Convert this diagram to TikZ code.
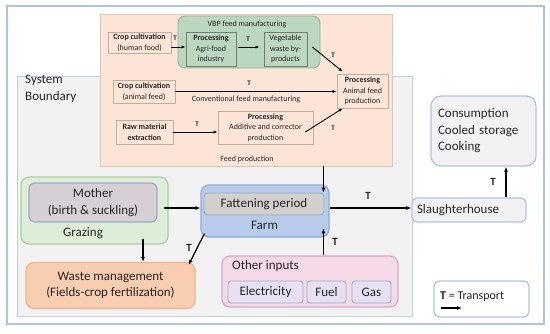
\documentclass[tikz,border=0pt]{standalone}
\usepackage{fontspec}
\usetikzlibrary{arrows.meta}
\setmainfont{Carlito}
\definecolor{framecol}{HTML}{A9C5E2}
\definecolor{sysfill}{HTML}{F2F2F2}
\definecolor{sysdraw}{HTML}{BDD0E4}
\definecolor{feedfill}{HTML}{FCE4D6}
\definecolor{feeddraw}{HTML}{D9C7B8}
\definecolor{fbord}{HTML}{BFAE9F}
\definecolor{vbpfill}{HTML}{BBD7BF}
\definecolor{vbpdraw}{HTML}{8DB596}
\definecolor{vbpbox}{HTML}{6E7F6E}
\definecolor{grazefill}{HTML}{DDEDD8}
\definecolor{grazedraw}{HTML}{A8CFA0}
\definecolor{motherfill}{HTML}{D6D0D6}
\definecolor{motherdraw}{HTML}{9DAAC6}
\definecolor{farmfill}{HTML}{B7CBEA}
\definecolor{farmdraw}{HTML}{8EAADB}
\definecolor{fatfill}{HTML}{D3CFCD}
\definecolor{wastefill}{HTML}{F9CDB0}
\definecolor{wastedraw}{HTML}{EFB48E}
\definecolor{otherfill}{HTML}{F4D9E6}
\definecolor{otherdraw}{HTML}{D7A9C9}
\definecolor{elecfill}{HTML}{E6E1F2}
\definecolor{elecdraw}{HTML}{A3AACB}
\definecolor{txt}{HTML}{262626}
\begin{document}
\begin{tikzpicture}[x=1pt,y=-1pt,
  every node/.style={inner sep=0pt,align=center,text=txt},
  arr/.style={-{Latex[length=5pt,width=4pt]},line width=1.2pt},
  sarr/.style={-{Latex[length=4pt,width=3pt]},line width=0.9pt},
  small/.style={font=\fontsize{8}{10.5}\selectfont},
  big/.style={font=\fontsize{13}{16.5}\selectfont},
  tlbl/.style={font=\bfseries\fontsize{7}{8}\selectfont},
  Tlbl/.style={font=\bfseries\fontsize{11}{12}\selectfont},
  fbox/.style={draw=fbord,fill=feedfill,line width=0.7pt,small},
  vbox/.style={draw=vbpbox,fill=vbpfill,line width=0.7pt,small},
  panel/.style={rounded corners=8pt,line width=1.2pt},
  inbox/.style={draw=elecdraw,fill=elecfill,rounded corners=3pt,line width=0.9pt,big,minimum height=22},
]
  \useasboundingbox (0,0) rectangle (550,333);
  \fill[white] (0,0) rectangle (550,333);
  \draw[framecol,line width=1.2pt,fill=white] (7,6) rectangle (544,324);

  \node[draw=sysdraw,fill=sysfill,line width=0.9pt,minimum width=395,minimum height=240] (sys) at (214.5,196) {};
  \node[big,align=left,anchor=north west] (syslbl) at (25,75) {System\\Boundary};

  % feed production
  \node[draw=feeddraw,fill=feedfill,line width=0.9pt,minimum width=292,minimum height=152] (feed) at (246,90) {};
  \node[small] (feedlbl) at (247,159) {Feed production};
  \node[draw=vbpdraw,fill=vbpfill,rounded corners=7pt,line width=0.9pt,minimum width=142,minimum height=52] (vbp) at (249,42) {};
  \node[small] (vbplbl) at (247,24) {VBP feed manufacturing};

  \node[fbox,minimum width=63,minimum height=21] (cropH) at (139.5,42.5) {\textbf{Crop cultivation}\\(human food)};
  \node[vbox,minimum width=50,minimum height=34] (procA) at (211,49) {\textbf{Processing}\\Agri-food\\industry};
  \node[vbox,minimum width=43,minimum height=34] (vegW) at (285.5,49) {Vegetable\\waste by-\\products};
  \node[fbox,minimum width=62,minimum height=23] (cropA) at (144,91.5) {\textbf{Crop cultivation}\\(animal feed)};
  \node[fbox,minimum width=51,minimum height=34] (procF) at (362.5,91) {\textbf{Processing}\\Animal feed\\production};
  \node[fbox,minimum width=57,minimum height=24] (raw) at (144.5,132) {\textbf{Raw material}\\\textbf{extraction}};
  \node[fbox,minimum width=95,minimum height=33] (procAdd) at (265.5,127.5) {\textbf{Processing}\\Additive and corrector\\production};

  \draw[sarr] ([yshift=-4.5pt]cropH.east) -- ([yshift=-4.5pt]cropH.east -| procA.west);
  \draw[sarr] ([xshift=2pt,yshift=2pt]procA.east) -- ([xshift=-4pt,yshift=2pt]vegW.west);
  \draw[sarr] ([xshift=5pt,yshift=2pt]vegW.east) -- ([xshift=6pt,yshift=2pt]procF.north west);
  \draw[sarr] (cropA.east) -- (cropA.east -| procF.west);
  \draw[sarr] (raw.east) -- (raw.east -| procAdd.west);
  \draw[sarr] ([xshift=-8pt,yshift=-4.5pt]procAdd.east) -- ([xshift=6pt]procF.south west);

  \node[tlbl] (t1) at (175,38) {T};
  \node[tlbl] (t2) at (248,39) {T};
  \node[tlbl] (t3) at (333,55) {T};
  \node[tlbl] (t4) at (249,83) {T};
  \node[tlbl] (t5) at (197,124) {T};
  \node[tlbl] (t6) at (333,128) {T};
  \node[small] (conv) at (246,99) {Conventional feed manufacturing};

  % farm side
  \node[panel,draw=grazedraw,fill=grazefill,minimum width=147,minimum height=67] (grazing) at (94.5,210.5) {};
  \node[panel,draw=motherdraw,fill=motherfill,rounded corners=6pt,minimum width=128,minimum height=39,big] (mother) at (93,202.5) {Mother\\(birth \& suckling)};
  \node[big] (grazlbl) at (83,233) {Grazing};

  \node[panel,draw=farmdraw,fill=farmfill,minimum width=128,minimum height=52] (farm) at (265,211) {};
  \node[draw=motherdraw,fill=fatfill,rounded corners=4pt,line width=0.9pt,minimum width=120,minimum height=22,big] (fatten) at (264,204) {Fattening period};
  \node[big] (farmlbl) at (264.5,225) {Farm};

  \node[panel,draw=wastedraw,fill=wastefill,minimum width=169,minimum height=46,big] (waste) at (110.5,285.5) {Waste management\\(Fields-crop fertilization)};

  \node[panel,draw=otherdraw,fill=otherfill,minimum width=176,minimum height=51] (other) at (310,281.5) {};
  \node[big,anchor=west] (otherlbl) at (232,266) {Other inputs};
  \foreach \nm/\cx/\w/\lbl in {elec/265.5/75/Electricity, fuel/326.5/39/Fuel, gas/371.5/39/Gas}
    \node[inbox,minimum width=\w] (\nm) at (\cx,292) {\lbl};

  \node[panel,draw=farmdraw!70,fill=sysfill,rounded corners=5pt,minimum width=114,minimum height=24,text width=104,align=left,big] (slaughter) at (469,210) {Slaughterhouse};
  \node[panel,draw=farmdraw!70,fill=sysfill,rounded corners=10pt,minimum width=105,minimum height=70,text width=91,align=left,big] (consum) at (483.5,131) {Consumption\\Cooled storage\\Cooking};

  \draw[arr] ([xshift=-1pt]fatten.north east |- feed.south) -- ([xshift=-1pt]fatten.north east);
  \draw[arr] ([xshift=6pt,yshift=-5.5pt]mother.east) -- ([yshift=-5.5pt]mother.east -| farm.west);
  \draw[arr] ([xshift=48.5pt,yshift=6pt]grazing.south) -- ([xshift=48.5pt]grazing.south |- waste.north);
  \draw[arr] ([xshift=4pt,yshift=4pt]farm.south west) -- ([xshift=-7pt,yshift=-3pt]waste.north east);
  \draw[arr] ([xshift=-1pt]fatten.south east |- other.north) -- ([xshift=-1pt,yshift=-13pt]fatten.south east);
  \draw[arr] ([yshift=2pt]farm.east |- slaughter.west) -- ([yshift=2pt]slaughter.west);
  \draw[arr] ([xshift=37pt]slaughter.north) -- ([xshift=37pt]slaughter.north |- consum.south);

  \node[Tlbl] (T1) at (189,248) {T};
  \node[Tlbl] (T2) at (335,242) {T};
  \node[Tlbl] (T3) at (368,196) {T};
  \node[Tlbl] (T4) at (493,182) {T};

  % legend
  \node[panel,draw=farmdraw!70,fill=white,rounded corners=6pt,minimum width=95,minimum height=36] (legend) at (481.5,299) {};
  \node[anchor=west,font=\fontsize{12}{14}\selectfont] (legtxt) at (440,297) {\textbf{T} = Transport};
  \coordinate (legA) at (441,308);
  \coordinate (legB) at (462,308);
  \draw[arr] (legA) -- (legB);
\end{tikzpicture}
\end{document}
